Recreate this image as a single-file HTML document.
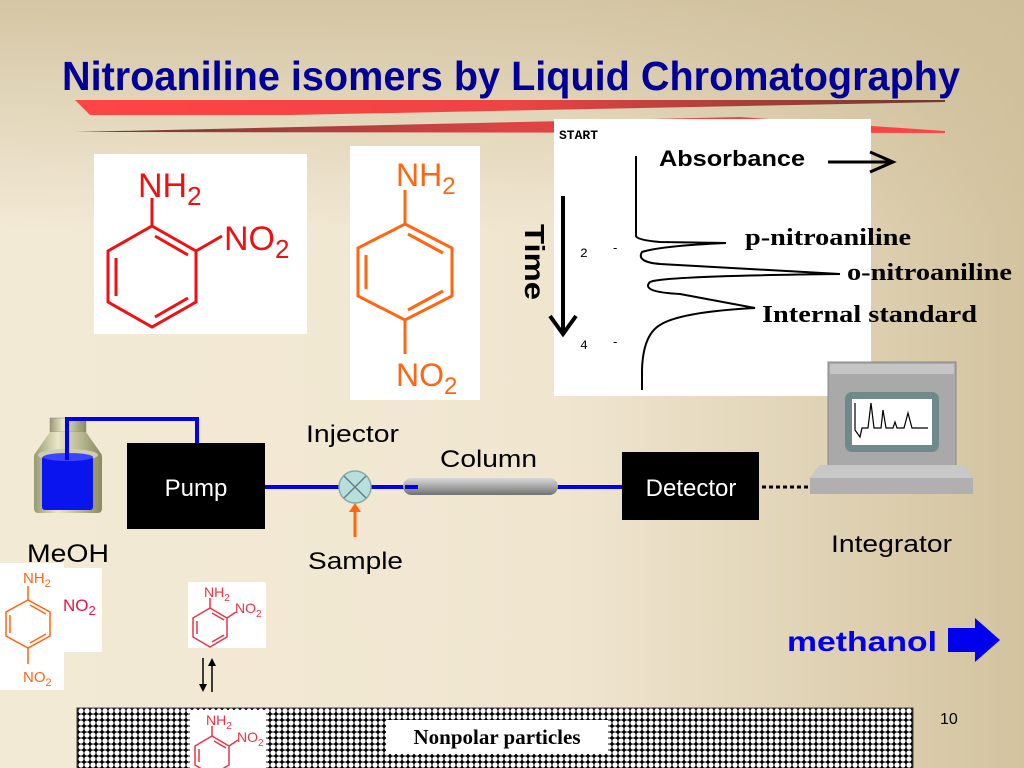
<!DOCTYPE html>
<html><head><meta charset="utf-8"><style>html,body{margin:0;padding:0;}svg{display:block;}</style></head>
<body>
<svg width="1024" height="768" viewBox="0 0 1024 768" xmlns="http://www.w3.org/2000/svg" font-family="Liberation Sans, Arial, sans-serif">
<defs>
<linearGradient id="bgH" x1="0" y1="0" x2="1" y2="0">
<stop offset="0" stop-color="#f3ead6"/><stop offset="0.55" stop-color="#f0e6d0"/><stop offset="1" stop-color="#d3c39f"/></linearGradient>
<linearGradient id="bgV" x1="0" y1="0" x2="0" y2="1">
<stop offset="0" stop-color="#cdbd98" stop-opacity="0.8"/><stop offset="0.3" stop-color="#cdbd98" stop-opacity="0"/></linearGradient>
<linearGradient id="rib1" x1="0" y1="0" x2="1" y2="0"><stop offset="0" stop-color="#ff4444"/><stop offset="0.5" stop-color="#ee4444"/><stop offset="1" stop-color="#6b3a30"/></linearGradient>
<linearGradient id="rib2" x1="0" y1="0" x2="1" y2="0"><stop offset="0" stop-color="#6b3a30"/><stop offset="0.5" stop-color="#dd4444"/><stop offset="1" stop-color="#ff4444"/></linearGradient>
<linearGradient id="col" x1="0" y1="0" x2="0" y2="1"><stop offset="0" stop-color="#d8d8d8"/><stop offset="0.5" stop-color="#a8a8a8"/><stop offset="1" stop-color="#707070"/></linearGradient>
<linearGradient id="bot" x1="0" y1="0" x2="1" y2="0"><stop offset="0" stop-color="#9a9a70"/><stop offset="0.35" stop-color="#e8e8c8"/><stop offset="1" stop-color="#8a8a60"/></linearGradient>
<pattern id="dots" width="6" height="6" patternUnits="userSpaceOnUse"><rect width="6" height="6" fill="#000"/><circle cx="3" cy="3" r="2.6" fill="#fff"/></pattern>
</defs>
<rect width="1024" height="768" fill="url(#bgH)"/>
<rect width="1024" height="768" fill="url(#bgV)"/>

<!-- ribbon -->
<polygon points="75,100 945,100 945,102 290,115 90,115" fill="url(#rib1)"/>
<polygon points="75,132 740,117 945,131 945,133" fill="url(#rib2)"/>
<!-- title -->
<text x="62" y="90" font-size="41" font-weight="bold" fill="#000099" textLength="898" lengthAdjust="spacingAndGlyphs">Nitroaniline isomers by Liquid Chromatography</text>

<!-- o-nitroaniline big -->
<rect x="94" y="154" width="213" height="180" fill="#fff"/>
<g stroke="#ee1111" stroke-width="3" fill="none">
<polygon points="152,226 196,251 196,302 152,327 108,302 108,251"/>
<line x1="116" y1="258" x2="116" y2="296"/><line x1="155" y1="236" x2="188" y2="255"/><line x1="155" y1="317" x2="188" y2="298"/>
<line x1="152" y1="226" x2="152" y2="198"/><line x1="196" y1="251" x2="222" y2="236"/>
</g>
<text x="138" y="197" font-size="34" fill="#ee1111">NH<tspan font-size="26" dy="8">2</tspan></text>
<text x="224" y="250" font-size="34" fill="#ee1111">NO<tspan font-size="26" dy="8">2</tspan></text>

<!-- p-nitroaniline big -->
<rect x="350" y="146" width="130" height="254" fill="#fff"/>
<g stroke="#ff6611" stroke-width="3" fill="none">
<polygon points="405,224 452,248 452,296 405,320 358,296 358,248"/>
<line x1="366" y1="255" x2="366" y2="289"/><line x1="408" y1="234" x2="443" y2="253"/><line x1="408" y1="310" x2="443" y2="291"/>
<line x1="405" y1="224" x2="405" y2="190"/><line x1="405" y1="320" x2="405" y2="354"/>
</g>
<text x="396" y="186" font-size="32" fill="#ff6611">NH<tspan font-size="24" dy="8">2</tspan></text>
<text x="396" y="386" font-size="32" fill="#ff6611">NO<tspan font-size="24" dy="8">2</tspan></text>

<!-- chromatogram -->
<rect x="554" y="119" width="317" height="277" fill="#fff"/>
<text x="559" y="139" font-size="13" font-family="Liberation Mono, monospace" font-weight="bold" fill="#000">START</text>
<text x="659" y="166" font-size="22" font-weight="bold" fill="#000" textLength="146" lengthAdjust="spacingAndGlyphs">Absorbance</text>
<line x1="828" y1="162" x2="890" y2="162" stroke="#000" stroke-width="3"/>
<polyline points="870,152 893,162 870,172" fill="none" stroke="#000" stroke-width="3"/>
<path d="M636,156 L636,236 Q637,240 660,242 L726,243 Q660,246 642,252 Q636,262 660,264 L840,274 Q660,276 650,282 Q640,292 680,294 L755,308 Q680,312 660,325 Q643,335 642,370 L642,390" fill="none" stroke="#000" stroke-width="2"/>
<text x="580" y="257" font-size="13" font-family="Liberation Mono, monospace">2</text><text x="613" y="252" font-size="13">-</text>
<text x="580" y="349" font-size="13" font-family="Liberation Mono, monospace">4</text><text x="613" y="346" font-size="13">-</text>
<line x1="563" y1="196" x2="563" y2="332" stroke="#000" stroke-width="4"/>
<polyline points="550,316 563,334 576,316" fill="none" stroke="#000" stroke-width="4"/>
<text x="0" y="0" font-size="28" font-weight="bold" fill="#000" transform="translate(525,224) rotate(90)" textLength="76" lengthAdjust="spacingAndGlyphs">Time</text>
<text x="745" y="245" font-size="24" font-weight="bold" font-family="Liberation Serif, serif" fill="#000" textLength="166" lengthAdjust="spacingAndGlyphs">p-nitroaniline</text>
<text x="847" y="280" font-size="24" font-weight="bold" font-family="Liberation Serif, serif" fill="#000" textLength="165" lengthAdjust="spacingAndGlyphs">o-nitroaniline</text>
<text x="762" y="322" font-size="24" font-weight="bold" font-family="Liberation Serif, serif" fill="#000" textLength="215" lengthAdjust="spacingAndGlyphs">Internal standard</text>

<!-- bottle -->
<rect x="50" y="418" width="36" height="14" fill="url(#bot)" stroke="#888" stroke-width="0.5"/>
<polygon points="50,432 86,432 102,455 34,455" fill="url(#bot)"/>
<rect x="34" y="453" width="68" height="60" rx="4" fill="url(#bot)"/>
<ellipse cx="68" cy="455" rx="30" ry="6" fill="#cfcfb0"/>
<rect x="42" y="456" width="51" height="54" rx="3" fill="#0a14ee"/>
<ellipse cx="68" cy="457" rx="25" ry="4" fill="#3b44ff"/>
<polyline points="67,460 67,419 197,419 197,443" fill="none" stroke="#0000ee" stroke-width="4"/>
<text x="27" y="562" font-size="25" fill="#000" textLength="82" lengthAdjust="spacingAndGlyphs">MeOH</text>

<!-- pump -->
<rect x="127" y="443" width="138" height="86" fill="#000"/>
<text x="196" y="496" font-size="24" fill="#fff" text-anchor="middle">Pump</text>
<line x1="265" y1="487" x2="625" y2="487" stroke="#0000ee" stroke-width="4"/>
<!-- injector -->
<circle cx="355" cy="487" r="16" fill="#b8dede" stroke="#8aa" stroke-width="1.5"/>
<line x1="344" y1="476" x2="366" y2="498" stroke="#6a8080" stroke-width="1.5"/><line x1="366" y1="476" x2="344" y2="498" stroke="#6a8080" stroke-width="1.5"/>
<line x1="355" y1="537" x2="355" y2="510" stroke="#ff6611" stroke-width="3"/><polygon points="349,512 355,503 361,512" fill="#ff6611"/>
<text x="306" y="442" font-size="24" fill="#000" textLength="93" lengthAdjust="spacingAndGlyphs">Injector</text>
<text x="308" y="569" font-size="24" fill="#000" textLength="95" lengthAdjust="spacingAndGlyphs">Sample</text>
<!-- column -->
<rect x="403" y="478" width="155" height="17" rx="8.5" fill="url(#col)"/>
<line x1="405" y1="487" x2="418" y2="487" stroke="#0000ee" stroke-width="4"/>
<text x="440" y="467" font-size="24" fill="#000" textLength="97" lengthAdjust="spacingAndGlyphs">Column</text>
<!-- detector -->
<rect x="622" y="452" width="137" height="68" fill="#000"/>
<text x="691" y="496" font-size="24" fill="#fff" text-anchor="middle">Detector</text>
<line x1="762" y1="487" x2="808" y2="487" stroke="#000" stroke-width="3" stroke-dasharray="4,3"/>
<!-- computer -->
<rect x="828" y="362" width="128" height="108" fill="#a9a9a9" stroke="#888"/>
<rect x="830" y="364" width="124" height="10" fill="#c5c5c5"/>
<rect x="845" y="392" width="94" height="60" rx="7" fill="#6f8a8a"/>
<rect x="852" y="399" width="80" height="46" fill="#fff"/>
<polyline points="855,403 855,430 860,437 862,428 868,428 871,403 874,428 881,428 883,410 886,428 893,428 895,422 897,428 904,428 908,413 912,428 928,428" fill="none" stroke="#000" stroke-width="1.2"/>
<polygon points="820,465 964,465 973,478 973,494 810,494 810,478" fill="#b0b0b0"/>
<polygon points="820,465 964,465 973,478 810,478" fill="#c8c8c8"/>
<text x="831" y="552" font-size="24" fill="#000" textLength="121" lengthAdjust="spacingAndGlyphs">Integrator</text>

<!-- small molecules -->
<rect x="64" y="568" width="38" height="84" fill="#fff"/>
<text x="63" y="611" font-size="17" fill="#ee1144">NO<tspan font-size="13" dy="4">2</tspan></text>
<rect x="0" y="563" width="64" height="127" fill="#fff"/>
<g stroke="#ff6611" stroke-width="1.5" fill="none">
<polygon points="28,600 50,612 50,636 28,648 6,636 6,612"/>
<line x1="10" y1="615" x2="10" y2="633"/><line x1="30" y1="605" x2="46" y2="614"/><line x1="30" y1="643" x2="46" y2="634"/>
<line x1="28" y1="600" x2="28" y2="586"/><line x1="28" y1="648" x2="28" y2="664"/>
</g>
<text x="23" y="583" font-size="15" fill="#ff6611">NH<tspan font-size="11" dy="4">2</tspan></text>
<text x="23" y="682" font-size="15" fill="#ff6611">NO<tspan font-size="11" dy="4">2</tspan></text>

<g>
<rect x="188" y="582" width="78" height="66" fill="#fff"/>
<g stroke="#ee3344" stroke-width="1.5" fill="none">
<polygon points="210,608 227,618 227,637 210,647 193,637 193,618"/>
<line x1="197" y1="621" x2="197" y2="634"/><line x1="212" y1="613" x2="224" y2="620"/><line x1="212" y1="642" x2="224" y2="635"/>
<line x1="210" y1="608" x2="210" y2="598"/><line x1="227" y1="618" x2="236" y2="612"/>
</g>
<text x="204" y="597" font-size="14" fill="#ee3344">NH<tspan font-size="10" dy="4">2</tspan></text>
<text x="235" y="613" font-size="14" fill="#ee3344">NO<tspan font-size="10" dy="4">2</tspan></text>
</g>
<line x1="203" y1="658" x2="203" y2="690" stroke="#000" stroke-width="1.5"/><polygon points="199,684 203,692 207,684" fill="#000"/>
<line x1="212" y1="692" x2="212" y2="660" stroke="#000" stroke-width="1.5"/><polygon points="208,666 212,658 216,666" fill="#000"/>

<!-- particles -->
<rect x="77" y="708" width="836" height="62" fill="url(#dots)" stroke="#444" stroke-width="1"/>
<rect x="190" y="710" width="76" height="58" fill="#fff"/>
<g stroke="#ee3344" stroke-width="1.5" fill="none">
<polygon points="212,736 229,746 229,765 212,775 195,765 195,746"/>
<line x1="199" y1="749" x2="199" y2="762"/><line x1="214" y1="741" x2="226" y2="748"/>
<line x1="212" y1="736" x2="212" y2="726"/><line x1="229" y1="746" x2="238" y2="740"/>
</g>
<text x="206" y="725" font-size="14" fill="#ee3344">NH<tspan font-size="10" dy="4">2</tspan></text>
<text x="237" y="742" font-size="14" fill="#ee3344">NO<tspan font-size="10" dy="4">2</tspan></text>
<rect x="386" y="720" width="222" height="34" fill="#fff"/>
<text x="497" y="744" font-size="21" font-weight="bold" font-family="Liberation Serif, serif" fill="#000" text-anchor="middle">Nonpolar particles</text>
<text x="940" y="724" font-size="16" fill="#000">10</text>

<!-- methanol -->
<text x="787" y="651" font-size="28" font-weight="bold" fill="#0000ee" textLength="150" lengthAdjust="spacingAndGlyphs">methanol</text>
<polygon points="948,628 975,628 975,618 1000,640 975,662 975,652 948,652" fill="#0000ee"/>
</svg>
</body></html>
